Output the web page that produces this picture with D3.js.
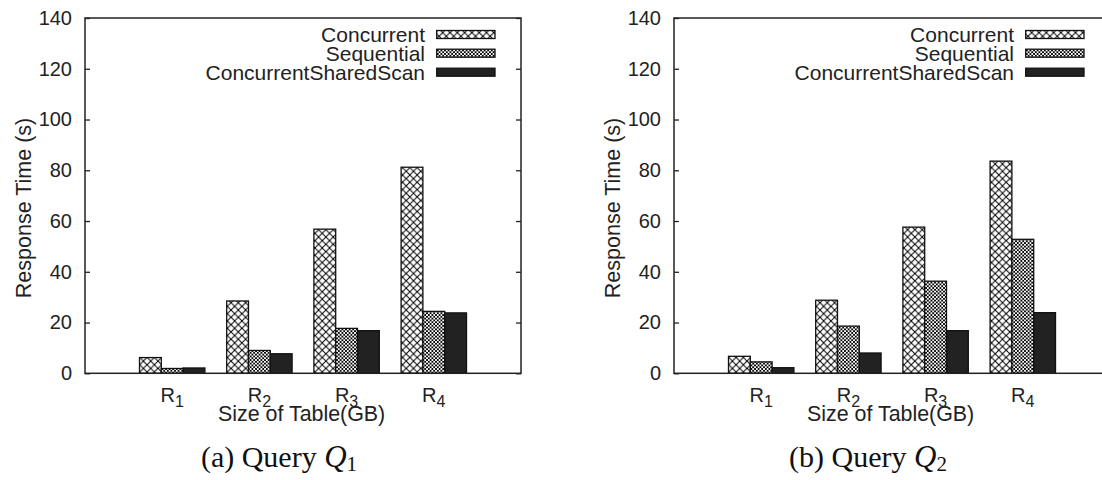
<!DOCTYPE html>
<html>
<head>
<meta charset="utf-8">
<script src="https://cdn.jsdelivr.net/npm/d3@7"></script>
<style>
html,body{margin:0;padding:0;background:#fff;}
svg{display:block;}
</style>
</head>
<body>
<svg id="chart" width="1102" height="480"></svg>
<script>
// ---- data ----
const categories = ["1", "2", "3", "4"];            // R subscripts
const seriesNames = ["Concurrent", "Sequential", "ConcurrentSharedScan"];
const q1Concurrent = [6.2, 28.5, 56.8, 81.2];
const q1Sequential = [1.9, 9.0, 17.7, 24.4];
const q1Shared     = [2.1, 7.7, 16.8, 23.8];
const q2Concurrent = [6.7, 28.8, 57.6, 83.6];
const q2Sequential = [4.5, 18.6, 36.3, 52.8];
const q2Shared     = [2.2, 8.0, 16.8, 23.9];
const yTicks = [0, 20, 40, 60, 80, 100, 120, 140];
const yLabel = "Response Time (s)";
const xLabel = "Size of Table(GB)";
const captions = [{pre: "(a) Query ", sub: "1"}, {pre: "(b) Query ", sub: "2"}];

const panels = [
  {series: [q1Concurrent, q1Sequential, q1Shared], caption: captions[0]},
  {series: [q2Concurrent, q2Sequential, q2Shared], caption: captions[1]}
];

const svg = d3.select("#chart");
const sans = "'Liberation Sans', Arial, Helvetica, sans-serif";
const serif = "'Liberation Serif', 'Times New Roman', serif";
const axisColor = "#222";

// patterns
const defs = svg.append("defs");
function crossPattern(id, size, sw) {
  const p = defs.append("pattern").attr("id", id)
    .attr("patternUnits", "userSpaceOnUse")
    .attr("width", size).attr("height", size);
  p.append("rect").attr("width", size).attr("height", size).attr("fill", "#fff");
  p.append("path")
    .attr("d", `M0,0L${size},${size}M${size},0L0,${size}`)
    .attr("stroke", "#000").attr("stroke-width", sw).attr("fill", "none");
}
crossPattern("patC", 7.3, 1.0);
crossPattern("patS", 3.6, 0.9);
const fills = ["url(#patC)", "url(#patS)", "#222"];

const W = 436, H = 355.3;
const offsets = [85, 674];
const topY = 18;

panels.forEach((panel, pi) => {
  const g = svg.append("g").attr("transform", `translate(${offsets[pi]},${topY})`);
  const x = d3.scaleLinear().domain([-1, 4]).range([0, W]);
  const y = d3.scaleLinear().domain([0, 140]).range([H, 0]);
  const barW = 0.25;

  // bars
  panel.series.forEach((vals, si) => {
    g.selectAll(null).data(vals).enter().append("rect")
      .attr("x", (d, i) => x(i - 0.375 + si * barW))
      .attr("width", x(barW) - x(0))
      .attr("y", d => y(d))
      .attr("height", d => y(0) - y(d))
      .attr("fill", fills[si])
      .attr("stroke", "#111")
      .attr("stroke-width", 1.3);
  });

  // left axis
  const ax = g.append("g").call(d3.axisLeft(y).tickValues(yTicks).tickSize(-5).tickPadding(13));
  ax.select(".domain").remove();
  ax.selectAll("line").attr("stroke", axisColor).attr("stroke-width", 1.3);
  ax.selectAll("text").attr("font-family", sans).attr("font-size", 20).attr("fill", "#222");

  // right mirrored ticks
  const axr = g.append("g").attr("transform", `translate(${W},0)`)
    .call(d3.axisRight(y).tickValues(yTicks).tickSize(-5).tickFormat(""));
  axr.select(".domain").remove();
  axr.selectAll("line").attr("stroke", axisColor).attr("stroke-width", 1.3);

  // frame
  g.append("rect").attr("x", 0).attr("y", 0).attr("width", W).attr("height", H)
    .attr("fill", "none").attr("stroke", axisColor).attr("stroke-width", 1.5);

  // x tick labels
  const xt = g.selectAll(null).data(categories).enter().append("text")
    .attr("x", (d, i) => x(i))
    .attr("y", 401.5 - topY)
    .attr("text-anchor", "middle")
    .attr("font-family", sans).attr("font-size", 20).attr("fill", "#222");
  xt.append("tspan").text("R");
  xt.append("tspan").attr("font-size", 16).attr("dy", 5.5).text(d => d);

  // x label
  g.append("text").attr("x", 133).attr("y", 421 - topY)
    .attr("font-family", sans).attr("font-size", 21.4).attr("fill", "#222")
    .text(xLabel);

  // y label
  g.append("text")
    .attr("transform", `translate(${-85 + 31},${208 - topY}) rotate(-90)`)
    .attr("text-anchor", "middle")
    .attr("font-family", sans).attr("font-size", 21.5).attr("fill", "#222")
    .text(yLabel);

  // legend
  const rowY = [34.5, 53.2, 72.2];
  seriesNames.forEach((name, si) => {
    g.append("text").attr("x", 340).attr("y", rowY[si] - topY + 7.5)
      .attr("text-anchor", "end")
      .attr("font-family", sans).attr("font-size", 21).attr("fill", "#222")
      .text(name);
    g.append("rect").attr("x", 351.7).attr("y", rowY[si] - topY - 4)
      .attr("width", 58.3).attr("height", 8)
      .attr("fill", fills[si]).attr("stroke", "#111").attr("stroke-width", 1.3);
  });

  // caption
  const cap = g.append("text").attr("x", 279 - 85).attr("y", 467 - topY)
    .attr("text-anchor", "middle")
    .attr("font-family", serif).attr("font-size", 30).attr("fill", "#111");
  cap.append("tspan").text(panel.caption.pre);
  cap.append("tspan").attr("font-style", "italic").attr("font-size", 31).text("Q");
  cap.append("tspan").attr("font-size", 21).attr("dy", 4).text(panel.caption.sub);
});
</script>
</body>
</html>
